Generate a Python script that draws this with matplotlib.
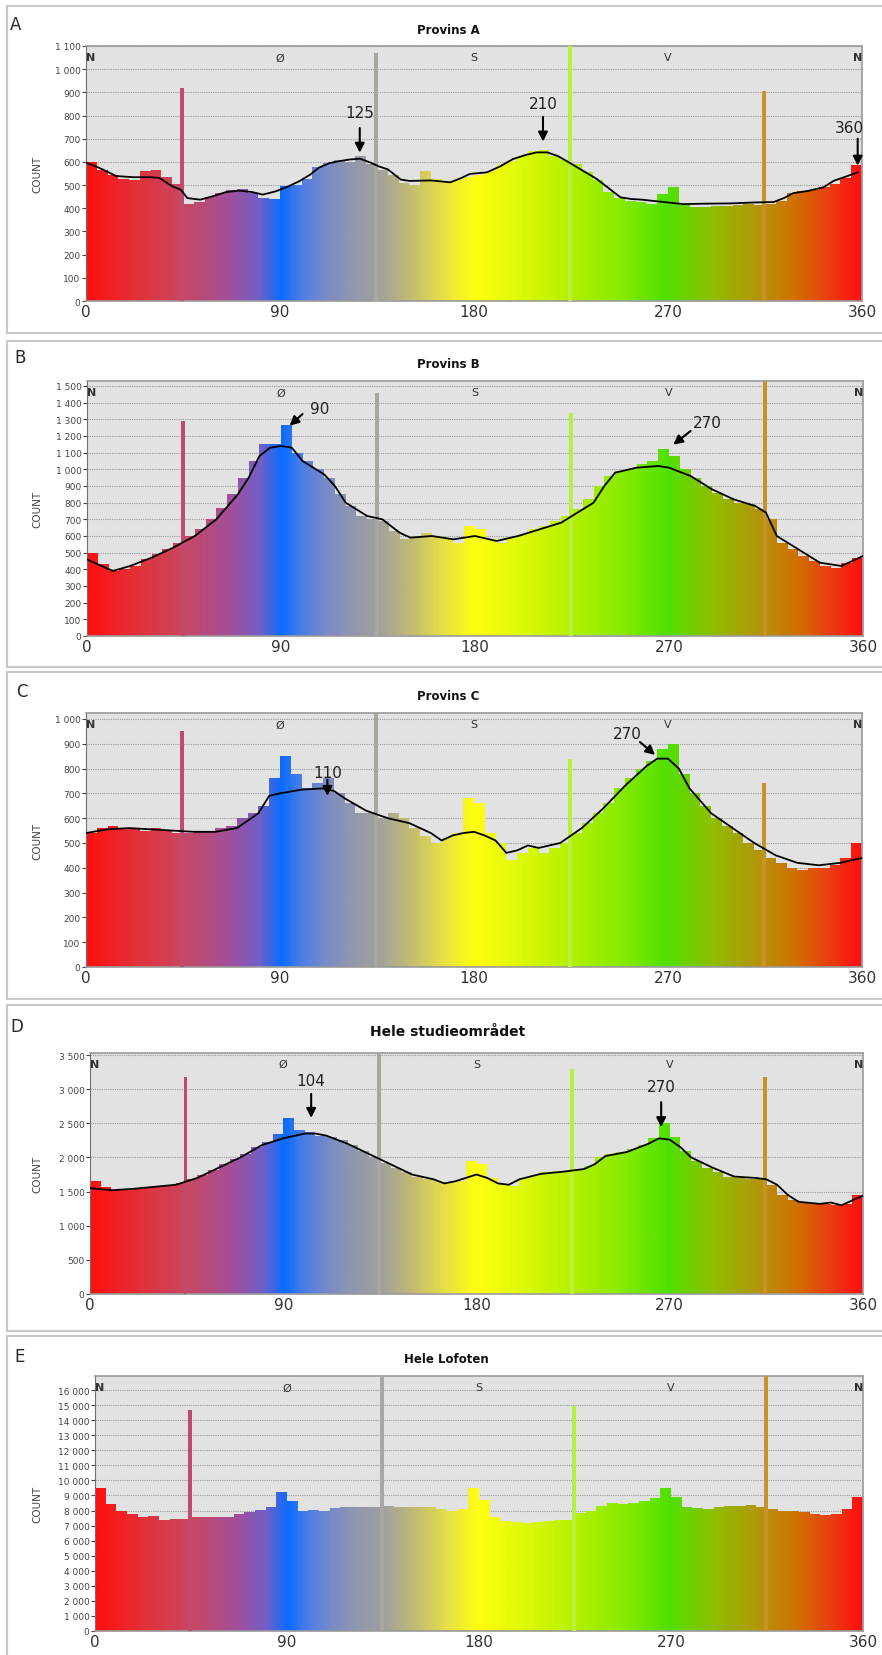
import matplotlib.pyplot as plt
import numpy as np
from matplotlib.colors import LinearSegmentedColormap
from matplotlib.patches import Rectangle

W, H = 882, 1656

# histogram bins: 5 degrees wide, 0..360
edges = list(range(0, 361, 5))

a_counts = [600, 565, 545, 525, 520, 560, 565, 535, 505, 420,
            425, 450, 465, 480, 482, 466, 445, 440, 495, 500,
            525, 580, 595, 610, 600, 625, 590, 565, 545, 510,
            500, 560, 525, 515, 520, 535, 545, 560, 585, 605,
            625, 645, 650, 625, 610, 590, 555, 520, 470, 445,
            430, 425, 420, 460, 490, 415, 405, 405, 410, 410,
            415, 420, 415, 420, 430, 465, 475, 480, 490, 505,
            530, 585]
b_counts = [500, 430, 390, 400, 420, 460, 490, 520, 560, 600,
            640, 700, 770, 850, 950, 1050, 1150, 1150, 1265, 1100,
            1050, 1000, 950, 850, 780, 720, 700, 690, 630, 580,
            600, 620, 600, 580, 560, 660, 640, 580, 560, 590,
            610, 640, 660, 690, 720, 760, 820, 900, 960, 990,
            1000, 1030, 1050, 1120, 1080, 1000, 950, 900, 860, 820,
            800, 790, 760, 700, 560, 520, 480, 450, 420, 410,
            440, 470]
c_counts = [540, 560, 570, 560, 560, 550, 560, 550, 540, 540,
            550, 545, 560, 570, 600, 620, 650, 760, 850, 780,
            720, 740, 760, 700, 660, 620, 620, 600, 620, 600,
            560, 530, 500, 520, 540, 680, 660, 540, 500, 430,
            460, 480, 460, 480, 500, 540, 580, 620, 660, 720,
            760, 800, 830, 880, 900, 780, 700, 650, 600, 570,
            540, 500, 470, 440, 420, 400, 390, 400, 400, 410,
            440, 500]
d_counts = [1650, 1560, 1520, 1530, 1540, 1560, 1580, 1600, 1620, 1680,
            1750, 1820, 1900, 1980, 2050, 2150, 2220, 2350, 2580, 2400,
            2380, 2320, 2300, 2250, 2180, 2100, 2000, 1920, 1850, 1780,
            1720, 1680, 1650, 1620, 1650, 1950, 1900, 1700, 1600, 1580,
            1700, 1750, 1780, 1800, 1800, 1830, 1880, 2000, 2050, 2080,
            2120, 2180, 2280, 2500, 2300, 2100, 1950, 1850, 1780, 1720,
            1700, 1690, 1680, 1600, 1450, 1380, 1330, 1320, 1320, 1300,
            1320, 1450]
e_counts = [9500, 8400, 8000, 7750, 7600, 7650, 7400, 7450, 7450, 7550,
            7600, 7550, 7600, 7750, 7900, 8050, 8200, 9200, 8600, 8000,
            8050, 8000, 8150, 8250, 8200, 8250, 8200, 8300, 8250, 8200,
            8250, 8200, 8100, 7950, 8100, 9500, 8700, 7600, 7300, 7250,
            7200, 7250, 7300, 7350, 7350, 7850, 7950, 8300, 8500, 8450,
            8500, 8600, 8850, 9500, 8900, 8250, 8150, 8100, 8250, 8300,
            8300, 8350, 8250, 8100, 8000, 7950, 7900, 7750, 7700, 7800,
            8100, 8900]

# single-degree spikes
spike_deg = [44.5, 134.5, 224.5, 314.5]
spike_colors = ['#c04a70', '#a8a8a0', '#b8f040', '#c49428']
a_spikes = [920, 1070, 1100, 905]
b_spikes = [1290, 1460, 1340, 1530]
c_spikes = [950, 1024, 840, 740]
d_spikes = [3180, 3530, 3300, 3180]
e_spikes = [14700, 16930, 14950, 16930]

# smoothed curves
a_curve_deg = [0, 6, 14, 22, 30, 34, 40, 44, 47, 53, 60, 65, 71, 77, 82, 88, 94, 99,
               104, 108, 113, 118, 122, 127, 132, 136, 140, 146, 150, 160, 169, 174,
               178, 186, 192, 198, 204, 209, 214, 219, 224, 230, 237, 242, 248, 253,
               258, 268, 277, 288, 299, 310, 319, 324, 328, 335, 342, 347, 352, 358]
a_curve_val = [597, 575, 539, 534, 534, 531, 495, 480, 444, 437, 455, 470, 476, 470,
               459, 473, 495, 517, 545, 575, 595, 604, 610, 614, 597, 580, 568, 524,
               518, 520, 512, 530, 548, 555, 580, 612, 630, 641, 641, 625, 598, 565,
               526, 490, 447, 440, 437, 427, 418, 420, 421, 425, 427, 445, 465, 475,
               490, 519, 535, 555]
b_curve_deg = [0, 5, 12, 20, 30, 40, 50, 60, 70, 75, 80, 85, 90, 95, 100, 110, 115,
               120, 130, 137, 145, 150, 160, 170, 180, 190, 200, 210, 220, 225, 235,
               240, 245, 255, 265, 270, 280, 290, 300, 310, 315, 320, 330, 340, 350,
               355, 360]
b_curve_val = [460, 430, 390, 420, 470, 530, 600, 700, 850, 950, 1080, 1130, 1140,
               1130, 1050, 970, 900, 800, 720, 700, 620, 590, 600, 580, 600, 570, 600,
               640, 680, 720, 800, 900, 980, 1010, 1020, 1010, 960, 880, 820, 780, 740,
               600, 520, 440, 420, 450, 480]
c_curve_deg = [0, 10, 20, 30, 40, 50, 60, 70, 80, 85, 90, 100, 110, 115, 120, 130,
               140, 150, 160, 165, 170, 175, 180, 185, 190, 195, 200, 205, 210, 220,
               225, 230, 240, 250, 260, 265, 270, 275, 280, 290, 300, 310, 320, 330,
               340, 350, 360]
c_curve_val = [540, 555, 560, 555, 550, 545, 545, 560, 620, 690, 700, 715, 720, 710,
               680, 630, 600, 580, 540, 510, 530, 540, 545, 530, 510, 460, 470, 490,
               480, 500, 530, 560, 640, 730, 810, 840, 840, 800, 720, 620, 560, 500,
               450, 420, 410, 420, 440]
d_curve_deg = [0, 10, 20, 30, 40, 50, 60, 70, 80, 90, 100, 105, 110, 120, 130, 140,
               150, 160, 165, 170, 175, 180, 185, 190, 195, 200, 210, 220, 230, 235,
               240, 250, 260, 265, 270, 275, 280, 290, 300, 310, 315, 320, 325, 330,
               340, 345, 350, 355, 360]
d_curve_val = [1550, 1520, 1540, 1570, 1600, 1700, 1850, 2000, 2180, 2280, 2350,
               2350, 2320, 2200, 2050, 1900, 1750, 1680, 1620, 1650, 1700, 1750,
               1700, 1620, 1600, 1680, 1760, 1790, 1830, 1900, 2020, 2080, 2200,
               2280, 2260, 2150, 2000, 1850, 1720, 1700, 1680, 1600, 1450, 1350,
               1320, 1340, 1300, 1370, 1440]

# annotations: label, text pos, arrow tail, arrow tip
a_notes = [('125', (127, 815), (127, 746), (127, 640)),
           ('210', (212, 850), (212, 794), (212, 688)),
           ('360', (354, 750), (358, 700), (358, 584))]
b_notes = [('90', (108, 1368), (100, 1332), (94, 1262)),
           ('270', (288, 1284), (280, 1230), (272, 1148))]
c_notes = [('110', (112, 785), (112, 755), (112, 690)),
           ('270', (251, 940), (257, 907), (264, 855))]
d_notes = [('104', (103, 3133), (103, 2930), (103, 2580)),
           ('270', (266, 3045), (266, 2811), (266, 2445))]

titles = ['Provins A', 'Provins B', 'Provins C', 'Hele studieområdet', 'Hele Lofoten']
letters = ['A', 'B', 'C', 'D', 'E']
compass = ['N', 'Ø', 'S', 'V', 'N']
compass_deg = [0, 90, 180, 270, 360]
x_ticks = [0, 90, 180, 270, 360]

# hue gradient along the x axis
grad_deg = [0, 22, 45, 67, 80, 90, 100, 112, 125, 135, 150, 165, 180, 200, 225,
            250, 270, 290, 315, 330, 345, 360]
grad_col = ['#ff1010', '#e33038', '#c84862', '#a0509e', '#7060c8', '#0a6cff',
            '#4f7fe4', '#7c8cc4', '#9499aa', '#a0a0a0', '#c2bb72', '#e6df48',
            '#ffff10', '#e0fa08', '#b4f000', '#84ea00', '#50e000', '#8cc000',
            '#b8900a', '#d07000', '#e84010', '#ff1010']
hue_cmap = LinearSegmentedColormap.from_list(
    'hue', [(d / 360, c) for d, c in zip(grad_deg, grad_col)])

panels = [
    dict(counts=a_counts, spikes=a_spikes, curve=(a_curve_deg, a_curve_val),
         notes=a_notes, ytop=1100, ticks=range(0, 1101, 100),
         axes_px=(86, 862, 47, 302), box_px=(7, 334), title_xy=(448, 30),
         letter_xy=(10, 25), title_fs=8.5),
    dict(counts=b_counts, spikes=b_spikes, curve=(b_curve_deg, b_curve_val),
         notes=b_notes, ytop=1530, ticks=range(0, 1501, 100),
         axes_px=(87, 863, 382, 637), box_px=(342, 668), title_xy=(448, 365),
         letter_xy=(14, 358), title_fs=8.5),
    dict(counts=c_counts, spikes=c_spikes, curve=(c_curve_deg, c_curve_val),
         notes=c_notes, ytop=1024, ticks=range(0, 1001, 100),
         axes_px=(86, 862, 714, 968), box_px=(673, 1000), title_xy=(448, 697),
         letter_xy=(16, 692), title_fs=8.5),
    dict(counts=d_counts, spikes=d_spikes, curve=(d_curve_deg, d_curve_val),
         notes=d_notes, ytop=3530, ticks=range(0, 3501, 500),
         axes_px=(90, 863, 1054, 1295), box_px=(1006, 1332), title_xy=(448, 1032),
         letter_xy=(10, 1027), title_fs=10),
    dict(counts=e_counts, spikes=e_spikes, curve=None,
         notes=[], ytop=16930, ticks=range(0, 16001, 1000),
         axes_px=(95, 863, 1377, 1632), box_px=(1337, 1670), title_xy=(446, 1360),
         letter_xy=(14, 1357), title_fs=8.5),
]

fig = plt.figure(figsize=(W / 100, H / 100), dpi=100)
gradient = np.linspace(0, 1, 720).reshape(1, -1)

for i, p in enumerate(panels):
    # panel frame
    top, bot = p['box_px']
    fig.patches.append(Rectangle((7 / W, 1 - bot / H), (890 - 7) / W, (bot - top) / H,
                                 transform=fig.transFigure, facecolor='white',
                                 edgecolor='#c8c8c8', lw=1.5, zorder=-1))
    fig.text(p['letter_xy'][0] / W, 1 - p['letter_xy'][1] / H, letters[i],
             fontsize=12, color='#2a2a2a', va='center', ha='left')
    fig.text(p['title_xy'][0] / W, 1 - p['title_xy'][1] / H, titles[i],
             fontsize=p['title_fs'], fontweight='bold', color='#111111',
             va='center', ha='center')

    l, r, t, b = p['axes_px']
    ax = fig.add_axes([l / W, 1 - b / H, (r - l) / W, (b - t) / H])
    ax.set_facecolor('#e2e2e2')
    ytop = p['ytop']

    step = ax.stairs(p['counts'], edges, fill=True, facecolor='none',
                     edgecolor='none', zorder=2)
    im = ax.imshow(gradient, cmap=hue_cmap, extent=[0, 360, 0, ytop],
                   aspect='auto', interpolation='bilinear', zorder=2)
    im.set_clip_path(step)
    ax.bar(spike_deg, p['spikes'], width=1.7, color=spike_colors, zorder=3)
    if p['curve'] is not None:
        ax.plot(p['curve'][0], p['curve'][1], color='black', lw=1.3, zorder=4)

    ax.set_xlim(0, 360)
    ax.set_ylim(0, ytop)
    ax.set_axisbelow(True)
    ax.yaxis.grid(True, color='#9a9a9a', ls=(0, (1, 1)), lw=0.8)
    ax.set_yticks(list(p['ticks']))
    ax.set_yticklabels([f'{v:,}'.replace(',', ' ') for v in p['ticks']])
    ax.set_xticks(x_ticks)
    ax.set_xticklabels([str(v) for v in x_ticks])
    ax.tick_params(axis='y', labelsize=6.5, colors='#444444', length=3,
                   width=0.8, pad=1)
    ax.tick_params(axis='x', labelsize=11, colors='#333333', length=0, pad=2)
    ax.set_ylabel('COUNT', fontsize=7.5, color='#444444')
    ax.yaxis.set_label_coords((42 - l) / (r - l), 0.5)
    for s in ['top', 'right', 'bottom']:
        ax.spines[s].set_color('#9a9a9a')
        ax.spines[s].set_linewidth(1.2)
    ax.spines['left'].set_color('#707070')

    for lab, d in zip(compass, compass_deg):
        ha = 'left' if d == 0 else ('right' if d == 360 else 'center')
        ax.text(d, 0.955, lab, transform=ax.get_xaxis_transform(), ha=ha,
                va='center', fontsize=8, color='#333333',
                fontweight='bold' if lab == 'N' else 'normal', zorder=5)

    for lab, txy, tail, tip in p['notes']:
        ax.text(txy[0], txy[1], lab, fontsize=11, color='#222222',
                ha='center', va='center', zorder=6)
        ax.annotate('', xy=tip, xytext=tail, zorder=6,
                    arrowprops=dict(arrowstyle='-|>,head_length=0.55,head_width=0.28',
                                    color='black', lw=1.5, shrinkA=0, shrinkB=0))

plt.savefig('out.png', dpi=100)
